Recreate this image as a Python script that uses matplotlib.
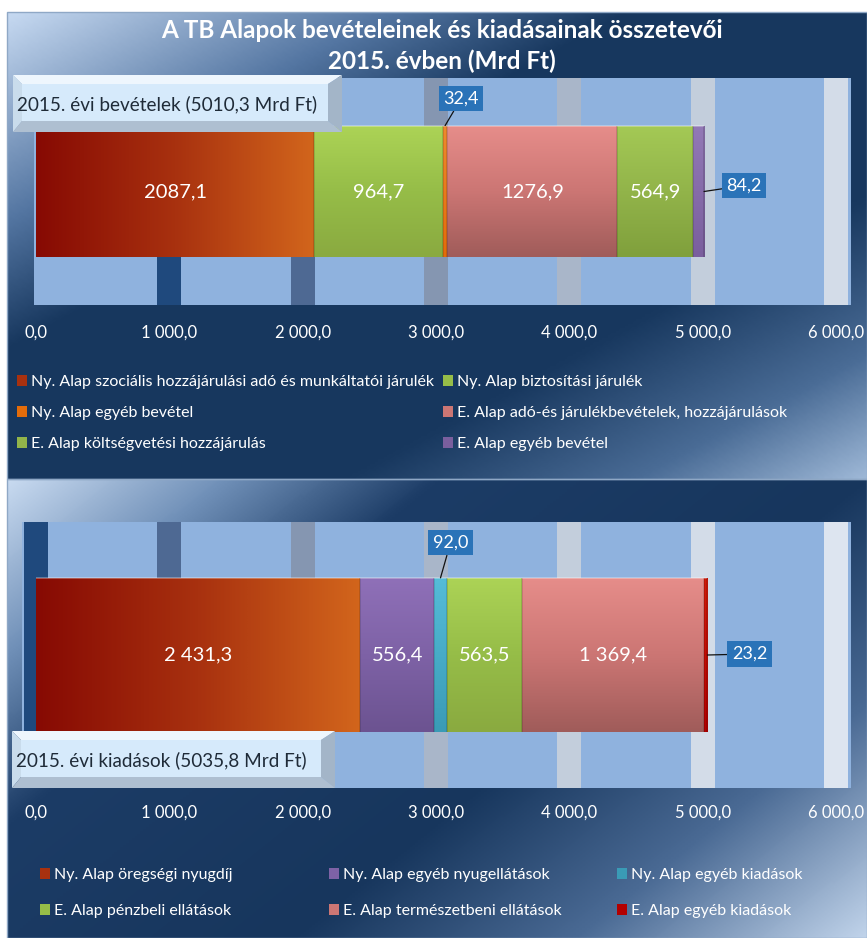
import matplotlib.pyplot as plt
import numpy as np
from matplotlib.colors import LinearSegmentedColormap
from matplotlib.patches import Rectangle, Polygon
from matplotlib.ticker import FuncFormatter

plt.rcParams['font.family'] = ['Lato', 'DejaVu Sans']

W, H = 867, 938

title_lines = ['A TB Alapok bevételeinek és kiadásainak összetevői',
               '2015. évben (Mrd Ft)']

inc_labels = ['Ny. Alap szociális hozzájárulási adó és munkáltatói járulék',
              'Ny. Alap biztosítási járulék',
              'Ny. Alap egyéb bevétel',
              'E. Alap adó-és járulékbevételek, hozzájárulások',
              'E. Alap költségvetési hozzájárulás',
              'E. Alap egyéb bevétel']
inc_values = [2087.1, 964.7, 32.4, 1276.9, 564.9, 84.2]
inc_name = '2015. évi bevételek (5010,3 Mrd Ft)'

exp_labels = ['Ny. Alap öregségi nyugdíj',
              'Ny. Alap egyéb nyugellátások',
              'Ny. Alap egyéb kiadások',
              'E. Alap pénzbeli ellátások',
              'E. Alap természetbeni ellátások',
              'E. Alap egyéb kiadások']
exp_values = [2431.3, 556.4, 92.0, 563.5, 1369.4, 23.2]
exp_name = '2015. évi kiadások (5035,8 Mrd Ft)'

ticks = [0, 1000, 2000, 3000, 4000, 5000, 6000]

# fills: (direction, colour stops)
inc_fills = [('h', ['#870a03', '#a8310f', '#d2651c']),
             ('v', ['#acd356', '#96bd48', '#8aaa40']),
             ('v', ['#ee8a2e', '#e46c0a']),
             ('v', ['#e68d8a', '#cc7674', '#a05c5a']),
             ('v', ['#a4c955', '#92b44a', '#80a03c']),
             ('v', ['#9279b6', '#7a5f9e'])]
exp_fills = [('h', ['#870a03', '#a8310f', '#d2651c']),
             ('v', ['#8f70b8', '#7e62a6', '#6c5391']),
             ('v', ['#55bcd8', '#3a9bb6']),
             ('v', ['#acd356', '#96bd48', '#8aaa40']),
             ('v', ['#e68d8a', '#cc7674', '#a05c5a']),
             ('v', ['#d21a0a', '#b30000'])]

px_per_unit = 800.0 / 6000   # 0 at x=36 px, 6000 at x=836 px
x_zero = 36


def frac(x0, y0, x1, y1):
    return [x0 / W, 1 - y1 / H, (x1 - x0) / W, (y1 - y0) / H]


def gradient(ax, x0, y0, x1, y1, stops, wx, wy):
    xx, yy = np.meshgrid(np.linspace(0, 1, 300), np.linspace(0, 1, 200))
    t = (wx * xx + wy * yy) / (wx + wy)
    cmap = LinearSegmentedColormap.from_list('', stops)
    ax.imshow(t, extent=(x0, x1, y1, y0), cmap=cmap, vmin=0, vmax=1,
              aspect='auto', interpolation='bilinear', zorder=0)


def fmt_group(v):
    return f'{v:,.1f}'.replace(',', ' ').replace('.', ',')


def fmt_plain(v):
    return f'{v:.1f}'.replace('.', ',')


fig = plt.figure(figsize=(W / 100, H / 100), dpi=100)
fig.patch.set_facecolor('white')

bg = fig.add_axes([0, 0, 1, 1])
bg.set_xlim(0, W)
bg.set_ylim(H, 0)
bg.axis('off')

gradient(bg, 7, 12, 867, 479,
         [(0, '#c6d9f1'), (0.22, '#5476a2'), (0.36, '#17375e'), (0.7, '#18385f'),
          (0.87, '#4a6c96'), (1, '#9db7d6')], 0.5, 0.5)
gradient(bg, 7, 479, 867, 938,
         [(0, '#c8daf0'), (0.15, '#7090b8'), (0.3, '#1c3c66'), (0.6, '#17365d'),
          (0.8, '#4a6a94'), (1, '#c0d3ea')], 0.6, 0.4)
bg.add_patch(Rectangle((7, 12), 860, 467, fill=False, ec='#8fa8c6', lw=1))
bg.add_patch(Rectangle((7, 479), 860, 459, fill=False, ec='#8fa8c6', lw=1))

for i, line in enumerate(title_lines):
    bg.text(442, 31 + 30 * i, line, ha='center', va='center', color='white',
            fontsize=17.5, fontweight='bold')

band_colors = ['#1f497d', '#4e6993', '#8596b1', '#a9b6c9', '#c3cedc', '#d3dce8', '#dde5f0']


def panel(box, values, labels, fills, fmt, tick_pad, callouts, band_start):
    ax = fig.add_axes(frac(*box))
    ax.set_facecolor('#8fb2de')
    for s in ax.spines.values():
        s.set_visible(False)
    ax.set_yticks([])
    ax.set_xticks(ticks)
    ax.xaxis.set_major_formatter(FuncFormatter(lambda v, p: fmt_group(v)))
    ax.tick_params(axis='x', length=0, pad=tick_pad, labelsize=12, labelcolor='white')

    visible = [t for t in ticks if t >= band_start]
    for k, t in enumerate(visible):
        ax.axvspan(t - 90, t + 90, color=band_colors[k], lw=0, zorder=0.5)

    lefts = np.concatenate([[0], np.cumsum(values)[:-1]])
    bars = ax.barh(0, values, left=lefts, height=0.58, zorder=2,
                   color=[f[1][len(f[1]) // 2] for f in fills],
                   edgecolor='none', label=labels)
    for p, (d, stops) in zip(bars.patches, fills):
        x0, y0, w, h = p.get_x(), p.get_y(), p.get_width(), p.get_height()
        cmap = LinearSegmentedColormap.from_list('', stops)
        arr = np.linspace(0, 1, 100)
        arr = arr[None, :] if d == 'h' else arr[:, None]
        im = ax.imshow(arr, extent=(x0, x0 + w, y0, y0 + h), cmap=cmap, aspect='auto',
                       interpolation='bilinear', zorder=2.1)
        im.set_clip_path(p)
        ax.plot([x0, x0 + w], [y0 + h, y0 + h], color='white', alpha=0.35, lw=1.2,
                zorder=2.2, solid_capstyle='butt')
        ax.plot([x0 + w, x0 + w], [y0, y0 + h], color='black', alpha=0.15, lw=1.2,
                zorder=2.2, solid_capstyle='butt')
    ax.set_aspect('auto')
    ax.set_xlim((box[0] - x_zero) / px_per_unit, (box[2] - x_zero) / px_per_unit)
    ax.set_ylim(-0.5, 0.5)

    for i, (p, v) in enumerate(zip(bars.patches, values)):
        if i in callouts:
            dx, dy, anchor = callouts[i]
            if anchor == 'top':
                xy = (p.get_x() + p.get_width() / 2, p.get_y() + p.get_height())
            else:
                xy = (p.get_x() + p.get_width(), 0)
            ax.annotate(fmt(v), xy=xy, xytext=(dx, dy), textcoords='offset pixels',
                        ha='center', va='center', color='white', fontsize=13,
                        bbox=dict(boxstyle='square,pad=0.25', fc='#2a73b8', ec='none'),
                        arrowprops=dict(arrowstyle='-', color='#111111', lw=0.9,
                                        shrinkA=0, shrinkB=0),
                        zorder=4)
        else:
            ax.text(p.get_x() + p.get_width() / 2, 0, fmt(v), ha='center', va='center',
                    color='white', fontsize=14.5, zorder=3)
    return ax, bars


ax1, bars1 = panel((34, 78, 851, 305), inc_values, inc_labels, inc_fills, fmt_plain, 14,
                   {2: (16, 27, 'top'), 5: (40, 6, 'right')}, 1000)
ax2, bars2 = panel((22, 522, 851, 788), exp_values, exp_labels, exp_fills, fmt_group, 12,
                   {2: (10, 35, 'top'), 5: (42, 1, 'right')}, 0)

# bevelled name boxes on top of the plot areas
ov = fig.add_axes([0, 0, 1, 1], zorder=10)
ov.set_xlim(0, W)
ov.set_ylim(H, 0)
ov.axis('off')
ov.patch.set_alpha(0)


def name_box(x0, y0, x1, y1, text):
    bl, bt, br, bb = 9, 9, 14, 11
    ov.add_patch(Polygon([(x0, y0), (x1, y0), (x1 - br, y0 + bt), (x0 + bl, y0 + bt)],
                         fc='#eef6fd', ec='none'))
    ov.add_patch(Polygon([(x0, y0), (x0 + bl, y0 + bt), (x0 + bl, y1 - bb), (x0, y1)],
                         fc='#c9dcec', ec='none'))
    ov.add_patch(Polygon([(x1, y0), (x1, y1), (x1 - br, y1 - bb), (x1 - br, y0 + bt)],
                         fc='#a3b5c8', ec='none'))
    ov.add_patch(Polygon([(x0, y1), (x1, y1), (x1 - br, y1 - bb), (x0 + bl, y1 - bb)],
                         fc='#aebfd1', ec='none'))
    ov.add_patch(Rectangle((x0 + bl, y0 + bt), x1 - x0 - bl - br, y1 - y0 - bt - bb,
                           fc='#d6eafb', ec='none'))
    ov.text(x0 + 4, (y0 + y1) / 2 + 1, text, ha='left', va='center', color='#1f2b38',
            fontsize=13.6)


name_box(13, 75, 342, 132, inc_name)
name_box(12, 731, 335, 788, exp_name)

# legends, one per column
leg_kw = dict(frameon=False, labelcolor='white', fontsize=11.5, handlelength=0.6,
              handleheight=0.7, handletextpad=0.3, borderpad=0, borderaxespad=0,
              loc='center left', bbox_transform=bg.transData)
h1 = bars1.patches
fig.legend([h1[0], h1[2], h1[4]], [inc_labels[0], inc_labels[2], inc_labels[4]],
           bbox_to_anchor=(17, 413), labelspacing=1.05, **leg_kw)
fig.legend([h1[1], h1[3], h1[5]], [inc_labels[1], inc_labels[3], inc_labels[5]],
           bbox_to_anchor=(443, 413), labelspacing=1.05, **leg_kw)
h2 = bars2.patches
for c, x in enumerate([40, 329, 617]):
    fig.legend([h2[c], h2[c + 3]], [exp_labels[c], exp_labels[c + 3]],
               bbox_to_anchor=(x, 893), labelspacing=1.35, **leg_kw)

fig.savefig('out.png', dpi=100, facecolor=fig.get_facecolor())
